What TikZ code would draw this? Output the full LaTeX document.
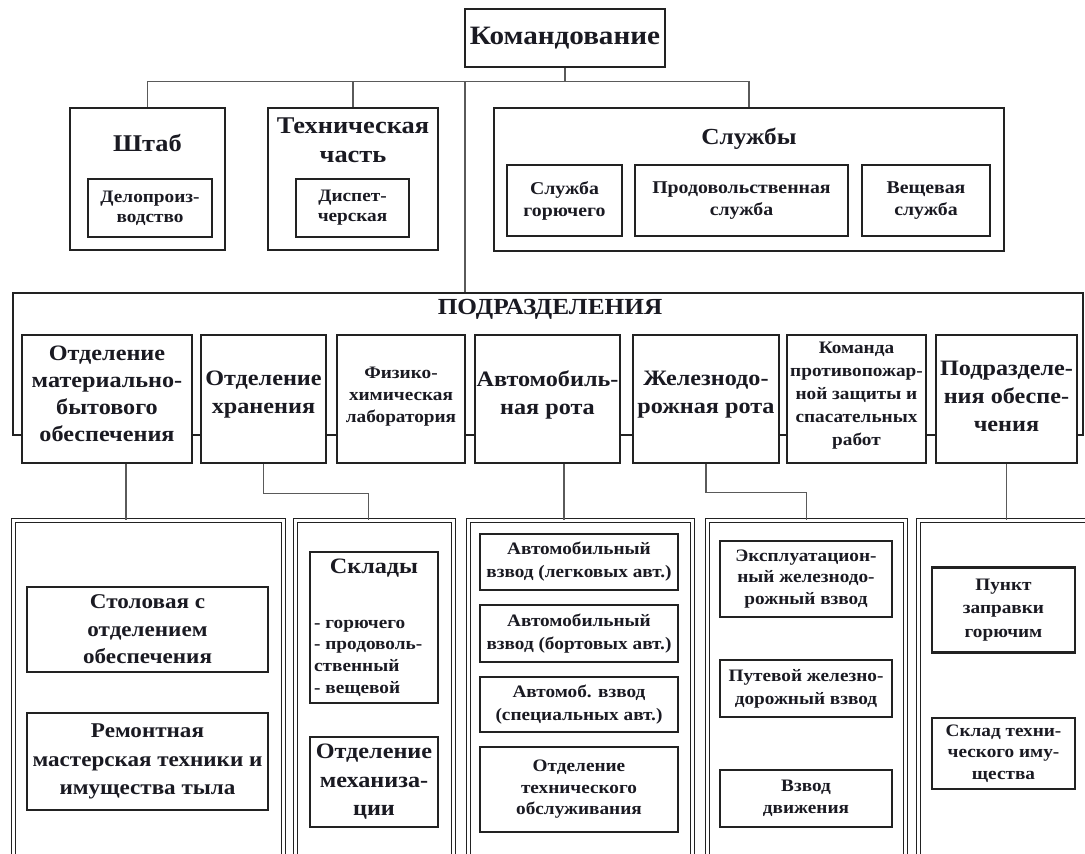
\documentclass[tikz,border=0pt]{standalone}
\usepackage{fontspec}
\setmainfont{Liberation Serif}[FakeStretch=1.1]
\usetikzlibrary{calc}
\definecolor{linec}{HTML}{222222}
\definecolor{connc}{HTML}{5A5A5A}
\definecolor{txtc}{HTML}{1A1A22}
\begin{document}
\begin{tikzpicture}[x=1pt,y=-1pt,
  box/.style={draw=linec, line width=2.5pt, fill=white, inner sep=0pt, align=center, text=txtc},
  colbox/.style={draw=linec, line width=1.2pt, double=white, double distance=2.6pt, fill=white, inner sep=0pt},
  frame/.style={draw=linec, line width=2.5pt, inner sep=0pt},
  conn/.style={draw=connc, line width=1.4pt},
  fs/.style 2 args={font=\fontsize{#1}{#2}\selectfont\bfseries},
  ttl/.style={inner sep=0pt, align=center, text=txtc}
]
\useasboundingbox (0,0) rectangle (1085,854);
\fill[white] (0,0) rectangle (1085,854);
\clip (0,0) rectangle (1085,854);

% top
\node[box, minimum width=200, minimum height=58, fs={26.5}{30}] (cmd) at (565,38) {Командование};

\node[box, minimum width=155, minimum height=142] (shtab) at (147.5,179) {};
\node[ttl, fs={24}{28}] (shtabt) at (147.5,143) {Штаб};
\node[box, minimum width=124, minimum height=58, fs={17.5}{20}] (delo) at (150,208) {Делопроиз-\\водство};

\node[box, minimum width=170, minimum height=142] (tech) at (353,179) {};
\node[ttl, fs={24}{29}] (techt) at (353,140.5) {Техническая\\часть};
\node[box, minimum width=113, minimum height=58, fs={17.5}{20}] (disp) at (352.5,208) {Диспет-\\черская};

\node[box, minimum width=510, minimum height=143] (sluzh) at (749,179.5) {};
\node[ttl, fs={23}{26}] (sluzht) at (749,139) {Службы};
\node[box, minimum width=115, minimum height=71, fs={18}{22}] (gor) at (564.5,200.5) {Служба\\горючего};
\node[box, minimum width=213, minimum height=71, fs={18}{22}] (prod) at (741.5,200.5) {Продовольственная\\служба};
\node[box, minimum width=128, minimum height=71, fs={18}{22}] (vesh) at (926,200.5) {Вещевая\\служба};

% connectors top
\draw[conn] (cmd.south) -- ++(0,13) coordinate (bus);
\coordinate (busL) at ($(bus)+(-100,0)$);
\draw[conn] (shtab.north) -- (shtab.north |- bus) -- (sluzh.north |- bus) -- (sluzh.north);
\draw[conn] (tech.north) -- (tech.north |- bus);

% subdivisions frame
\node[frame, minimum width=1070, minimum height=142] (podr) at (548,364) {};
\node[ttl, fs={23}{25}] (podrt) at (550,309) {ПОДРАЗДЕЛЕНИЯ};
\draw[conn] (busL) -- (busL |- podr.north);

\node[box, minimum width=170, minimum height=128] (r1) at (107,399) {};
\node[box, minimum width=125, minimum height=128] (r2) at (263.5,399) {};
\node[box, minimum width=128, minimum height=128] (r3) at (401,399) {};
\node[box, minimum width=145, minimum height=128] (r4) at (547.5,399) {};
\node[box, minimum width=146, minimum height=128] (r5) at (706,399) {};
\node[box, minimum width=139, minimum height=128] (r6) at (856.5,399) {};
\node[box, minimum width=141, minimum height=128] (r7) at (1006.5,399) {};
\node[ttl, fs={22}{27}] (r1t) at (107,394) {Отделение\\материально-\\бытового\\обеспечения};
\node[ttl, fs={22}{28}] (r2t) at (263.5,394.5) {Отделение\\хранения};
\node[ttl, fs={17.5}{22}] (r3t) at (401,396.5) {Физико-\\химическая\\лаборатория};
\node[ttl, fs={22}{28}] (r4t) at (547.5,395) {Автомобиль-\\ная рота};
\node[ttl, fs={22}{28}] (r5t) at (706,395) {Железнодо-\\рожная рота};
\node[ttl, fs={17.5}{23}] (r6t) at (856.5,396) {Команда\\противопожар-\\ной защиты и\\спасательных\\работ};
\node[ttl, fs={22}{28}] (r7t) at (1006.5,396.5) {Подразделе-\\ния обеспе-\\чения};

% lower columns
\node[colbox, anchor=north west, minimum width=270, minimum height=400] (c1) at (13,520) {};
\node[colbox, anchor=north west, minimum width=158, minimum height=400] (c2) at (295,520) {};
\node[colbox, anchor=north west, minimum width=224, minimum height=400] (c3) at (468,520) {};
\node[colbox, anchor=north west, minimum width=198, minimum height=400] (c4) at (707,520) {};
\node[colbox, anchor=north west, minimum width=200, minimum height=400] (c5) at (918,520) {};

% connectors to columns
\coordinate (r1s) at ([xshift=19pt]r1.south);
\draw[conn] (r1s) -- (r1s |- c1.north);
\coordinate (c2in) at ([xshift=-6pt]c2.north);
\draw[conn] (r2.south) -- ++(0,29) -| (c2in);
\coordinate (r4s) at ([xshift=16.5pt]r4.south);
\draw[conn] (r4s) -- (r4s |- c3.north);
\draw[conn] (r5.south) -- ++(0,28) -| (c4.north);
\draw[conn] (r7.south) -- (r7.south |- c5.north);

% column 1
\node[box, minimum width=241, minimum height=85, fs={21}{27.5}] (stol) at (147.5,629.5) {Столовая с\\отделением\\обеспечения};
\node[box, minimum width=241, minimum height=97, fs={21}{28.5}] (rem) at (147.5,761.5) {Ремонтная\\мастерская техники и\\имущества тыла};

% column 2
\node[box, minimum width=128, minimum height=151] (skl) at (374,627.5) {};
\node[ttl, fs={22}{25}] (sklt) at (374,568) {Склады};
\node[ttl, anchor=west, align=left, fs={17.5}{21.7}] (skll) at (314,658) {- горючего\\- продоволь-\\ственный\\- вещевой};
\node[box, minimum width=128, minimum height=90, fs={22}{28.5}] (mech) at (374,782) {Отделение\\механиза-\\ции};

% column 3
\node[box, minimum width=198, minimum height=56, fs={17.5}{23}] (av1) at (579,562) {Автомобильный\\взвод (легковых авт.)};
\node[box, minimum width=198, minimum height=57, fs={17.5}{23}] (av2) at (579,633.5) {Автомобильный\\взвод (бортовых авт.)};
\node[box, minimum width=198, minimum height=55, fs={17.5}{23}] (av3) at (579,704.5) {Автомоб. взвод\\(специальных авт.)};
\node[box, minimum width=198, minimum height=85, fs={17.5}{21.5}] (av4) at (579,789.5) {Отделение\\технического\\обслуживания};

% column 4
\node[box, minimum width=172, minimum height=76, fs={17.5}{21.5}] (zd1) at (806,579) {Эксплуатацион-\\ный железнодо-\\рожный взвод};
\node[box, minimum width=172, minimum height=57, fs={17.5}{23}] (zd2) at (806,688.5) {Путевой железно-\\дорожный взвод};
\node[box, minimum width=172, minimum height=57, fs={17.5}{22}] (zd3) at (806,798.5) {Взвод\\движения};

% column 5
\node[box, minimum width=143, minimum height=85, fs={17.5}{23.5}] (pz1) at (1003.5,610) {Пункт\\заправки\\горючим};
\node[box, minimum width=143, minimum height=71, fs={17.5}{21.5}] (pz2) at (1003.5,753.5) {Склад техни-\\ческого иму-\\щества};
\end{tikzpicture}
\end{document}
